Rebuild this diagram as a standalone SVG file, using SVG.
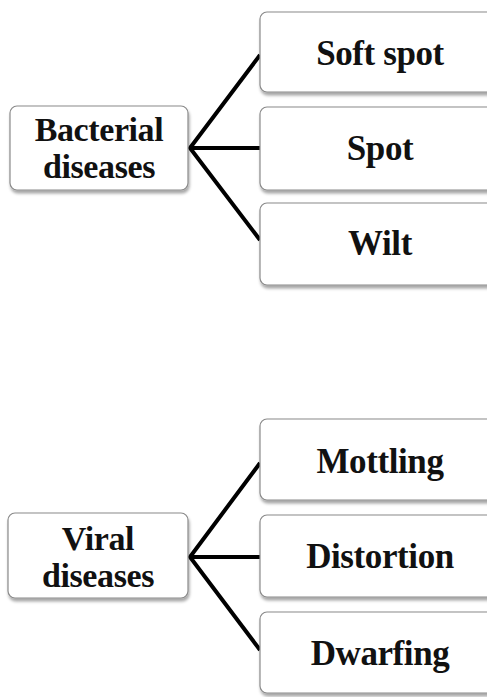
<svg xmlns="http://www.w3.org/2000/svg" width="487" height="697" viewBox="0 0 487 697">
<defs>
<filter id="sh" x="-10%" y="-10%" width="120%" height="130%">
<feDropShadow dx="1" dy="3" stdDeviation="1.5" flood-color="#000" flood-opacity="0.35"/>
</filter>
<style>
.box{fill:#fff;stroke:#8a8a8a;stroke-width:1.2;filter:url(#sh)}
.t{font-family:"Liberation Serif","Times New Roman",serif;font-weight:bold;font-size:35px;fill:#111;text-anchor:middle;letter-spacing:-0.4px}
.t2{font-size:34px}
.c{stroke:#000;stroke-width:4;fill:none;stroke-linecap:butt}
</style>
</defs>
<rect width="487" height="697" fill="#fff"/>
<g id="connectors">
<path class="c" d="M260,55 L190,148 L260,240 M190,148 L260,148"/>
<path class="c" d="M260,463 L190,557 L260,650 M190,557 L260,557"/>
</g>
<g id="bacterial">
<rect class="box" x="10" y="106" width="178" height="84" rx="7"/>
<text class="t t2" x="99" y="141">Bacterial</text>
<text class="t t2" x="99" y="178">diseases</text>
</g>
<g id="softspot">
<rect class="box" x="260" y="12" width="240" height="80" rx="7"/>
<text class="t" x="380" y="65">Soft spot</text>
</g>
<g id="spot">
<rect class="box" x="260" y="107" width="240" height="83" rx="7"/>
<text class="t" x="380" y="160">Spot</text>
</g>
<g id="wilt">
<rect class="box" x="260" y="203" width="240" height="82" rx="7"/>
<text class="t" x="380" y="255">Wilt</text>
</g>
<g id="viral">
<rect class="box" x="8" y="513" width="180" height="85" rx="7"/>
<text class="t t2" x="98" y="550">Viral</text>
<text class="t t2" x="98" y="587">diseases</text>
</g>
<g id="mottling">
<rect class="box" x="260" y="419" width="240" height="81" rx="7"/>
<text class="t" x="380" y="473">Mottling</text>
</g>
<g id="distortion">
<rect class="box" x="260" y="515" width="240" height="82" rx="7"/>
<text class="t" x="380" y="568">Distortion</text>
</g>
<g id="dwarfing">
<rect class="box" x="260" y="612" width="240" height="81" rx="7"/>
<text class="t" x="380" y="665">Dwarfing</text>
</g>
</svg>
